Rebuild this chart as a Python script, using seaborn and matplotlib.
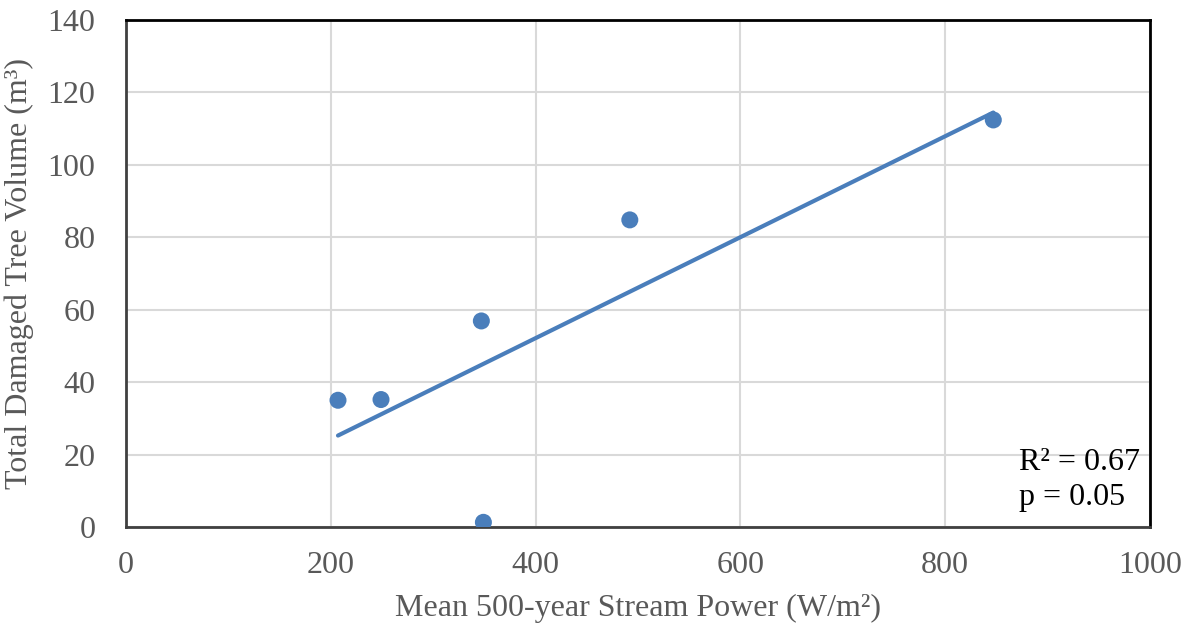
import numpy as np
import pandas as pd
import matplotlib
matplotlib.use("Agg")
import matplotlib.pyplot as plt
import seaborn as sns

stream_power = [207, 249, 347, 349, 492, 847]
tree_volume = [35.0, 35.2, 56.9, 1.3, 84.8, 112.4]
x_ticks = [0, 200, 400, 600, 800, 1000]
y_ticks = [0, 20, 40, 60, 80, 100, 120, 140]
annot_lines = ["R² = 0.67", "p = 0.05"]

df = pd.DataFrame({"x": stream_power, "y": tree_volume})

sns.set_theme(style="white")
plt.rcParams['font.family'] = ['Liberation Serif', 'DejaVu Serif']

fig = plt.figure(figsize=(11.96, 6.32), dpi=100)
ax = fig.add_axes([0.1054, 0.1661, 0.8561, 0.8023])

blue = "#4A7EBB"
sns.regplot(data=df, x="x", y="y", ax=ax, ci=None, truncate=True,
            scatter_kws=dict(s=150, color=blue, alpha=1, edgecolor="none", zorder=3),
            line_kws=dict(color=blue, lw=3, zorder=2, solid_capstyle="round"))

ax.set_xlim(0, 1000)
ax.set_ylim(0, 140)
ax.set_xticks(x_ticks)
ax.set_yticks(y_ticks)
ax.grid(True, color="#d9d9d9", lw=1.5, zorder=0)
ax.set_axisbelow(True)
ax.tick_params(axis="x", labelsize=23, labelcolor="#595959", length=0, pad=17)
ax.tick_params(axis="y", labelsize=23, labelcolor="#595959", length=0, pad=22)

for side in ["top", "right"]:
    ax.spines[side].set_color("black")
    ax.spines[side].set_linewidth(2.0)
for side in ["left", "bottom"]:
    ax.spines[side].set_color("#404040")
    ax.spines[side].set_linewidth(2.0)

ax.set_xlabel("Mean 500-year Stream Power (W/m²)", fontsize=23, color="#595959", labelpad=10)
ax.set_ylabel("Total Damaged Tree Volume (m³)", fontsize=23, color="#595959", labelpad=10)

ax.text(0.872, 0.128, annot_lines[0], transform=ax.transAxes, fontsize=23, color="black", va="center", ha="left")
ax.text(0.872, 0.058, annot_lines[1], transform=ax.transAxes, fontsize=23, color="black", va="center", ha="left")

fig.savefig("out.png", dpi=100)
